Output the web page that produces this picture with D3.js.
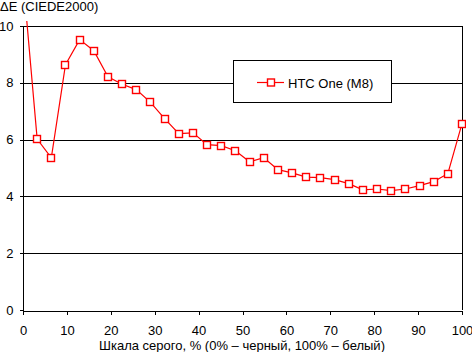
<!DOCTYPE html>
<html><head><meta charset="utf-8">
<script src="https://cdn.jsdelivr.net/npm/d3@7"></script>
<style>
html,body{margin:0;padding:0;background:#fff;}
text{font-family:"Liberation Sans",Arial,sans-serif;font-size:13px;fill:#000;}
</style></head>
<body>
<svg id="chart" width="472" height="352"></svg>
<script>
const seriesName = "HTC One (M8)";
const deltaE = [11.7, 6.02, 5.36, 8.64, 9.52, 9.13, 8.21, 7.95, 7.76, 7.31,
  6.74, 6.21, 6.24, 5.82, 5.79, 5.61, 5.22, 5.36, 4.94, 4.83,
  4.68, 4.66, 4.59, 4.45, 4.23, 4.26, 4.20, 4.26, 4.38, 4.52,
  4.80, 6.56];
const grayLevels = deltaE.map((d, i) => i * 100 / 31);
const xTicks = [0,10,20,30,40,50,60,70,80,90,100];
const yTicks = [0,2,4,6,8,10];
const yTitle = "ΔE (CIEDE2000)";
const xTitle = "Шкала серого, % (0% – черный, 100% – белый)";

const svg = d3.select("#chart");
const x = d3.scaleLinear().domain([0,100]).range([23,462]);
const y = d3.scaleLinear().domain([0,10]).range([310,26]);

// gridlines
svg.append("g").selectAll("line").data(yTicks.filter(d=>d>0)).join("line")
  .attr("x1",x(0)).attr("x2",x(100))
  .attr("y1",d=>Math.round(y(d))+0.5).attr("y2",d=>Math.round(y(d))+0.5)
  .attr("stroke","#000").attr("stroke-width",1).attr("shape-rendering","crispEdges");
// right border
svg.append("line").attr("x1",462.5).attr("x2",462.5).attr("y1",y(10)).attr("y2",y(0))
  .attr("stroke","#000").attr("shape-rendering","crispEdges");

// axes
const xAxis = d3.axisBottom(x).tickValues(xTicks).tickSize(4).tickSizeOuter(0).tickPadding(11);
const gx = svg.append("g").attr("transform","translate(0,310.5)").call(xAxis);
const yAxis = d3.axisLeft(y).tickValues(yTicks).tickSize(4).tickSizeOuter(0).tickPadding(6);
const gy = svg.append("g").attr("transform","translate(23.5,0)").call(yAxis);
[gx,gy].forEach(g=>{
  g.selectAll("path,line").attr("stroke","#000").attr("shape-rendering","crispEdges");
  g.selectAll("text").attr("font-size","13px").attr("font-family","Liberation Sans, Arial, sans-serif").attr("fill","#000");
});
gy.select(".domain").remove();
svg.append("line").attr("x1",23.5).attr("x2",23.5).attr("y1",y(10)).attr("y2",314)
  .attr("stroke","#000").attr("shape-rendering","crispEdges");

// clip
svg.append("clipPath").attr("id","clip").append("rect")
  .attr("x",20).attr("y",21).attr("width",446).attr("height",292);

const plot = svg.append("g").attr("clip-path","url(#clip)");
const line = d3.line().x((d,i)=>x(grayLevels[i])).y(d=>y(d));
plot.append("path").datum(deltaE).attr("d",line)
  .attr("fill","none").attr("stroke","#ff0000").attr("stroke-width",1.2);
plot.selectAll("rect.m").data(deltaE).join("rect").attr("class","m")
  .attr("x",(d,i)=>Math.round(x(grayLevels[i]))-3.5)
  .attr("y",d=>Math.round(y(d))-3.5)
  .attr("width",7).attr("height",7)
  .attr("fill","#fff").attr("stroke","#ff0000").attr("stroke-width",1.4);

// legend
const lg = svg.append("g");
lg.append("rect").attr("x",233.5).attr("y",60.5).attr("width",158).attr("height",42)
  .attr("fill","#fff").attr("stroke","#000").attr("shape-rendering","crispEdges");
lg.append("line").attr("x1",257).attr("x2",284).attr("y1",82.5).attr("y2",82.5)
  .attr("stroke","#ff0000").attr("stroke-width",1.2);
lg.append("rect").attr("x",267.5).attr("y",79).attr("width",7).attr("height",7)
  .attr("fill","#fff").attr("stroke","#ff0000").attr("stroke-width",1.4);
lg.append("text").attr("x",288).attr("y",87.5).text(seriesName);

// titles
svg.append("text").attr("x",0).attr("y",11).text(yTitle);
svg.append("text").attr("x",242).attr("y",350).attr("text-anchor","middle").text(xTitle);
</script>
</body></html>
